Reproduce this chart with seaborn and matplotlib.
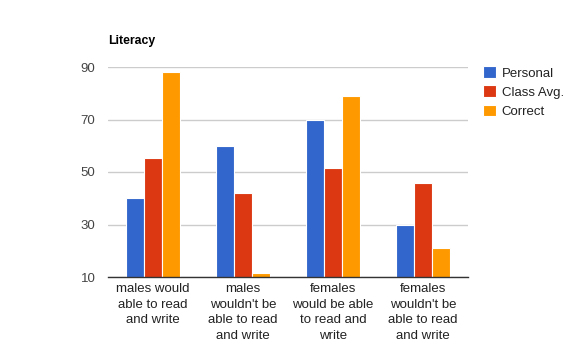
import matplotlib
matplotlib.use("Agg")
import matplotlib.pyplot as plt
import seaborn as sns
import pandas as pd

categories = [
    "males would\nable to read\nand write",
    "males\nwouldn't be\nable to read\nand write",
    "females\nwould be able\nto read and\nwrite",
    "females\nwouldn't be\nable to read\nand write",
]
series = ["Personal", "Class Avg.", "Correct"]
personal = [40, 60, 70, 30]
class_avg = [55.5, 42, 51.5, 46]
correct = [88, 11.5, 79, 21]
colors = ["#3366cc", "#dc3912", "#ff9900"]
y_ticks = [10, 30, 50, 70, 90]

df = pd.DataFrame({
    "category": categories * 3,
    "series": [s for s in series for _ in categories],
    "value": personal + class_avg + correct,
})

sns.set_theme(style="white")
plt.rcParams["font.family"] = ["Liberation Sans", "DejaVu Sans"]

fig = plt.figure(figsize=(5.77, 3.43), dpi=100)
ax = fig.add_axes([108 / 577, 1 - 277 / 343, 360 / 577, 210 / 343])

sns.barplot(data=df, x="category", y="value", hue="series", order=categories,
            hue_order=series, palette=colors, width=0.6, saturation=1,
            edgecolor="white", linewidth=0.8, ax=ax, legend=True)

ax.set_ylim(10, 90)
ax.set_xlim(-0.5, 3.5)
ax.set_yticks(y_ticks)
ax.set_yticklabels([str(t) for t in y_ticks])
ax.yaxis.grid(True, color="#cccccc", linewidth=1)
ax.set_axisbelow(True)
for side in ["left", "right", "top"]:
    ax.spines[side].set_visible(False)
ax.spines["bottom"].set_color("#333333")
ax.spines["bottom"].set_linewidth(1)
ax.set_xlabel("")
ax.set_ylabel("")
ax.tick_params(axis="y", length=0, pad=9, labelsize=9.5, labelcolor="#444444")
ax.tick_params(axis="x", length=0, pad=4.5, labelsize=9.5, labelcolor="#222222")
for lbl in ax.get_xticklabels():
    lbl.set_linespacing(1.38)

fig.text(108 / 577, 1 - 41 / 343, "Literacy", fontsize=8.8, fontweight="bold",
         color="#000000", ha="left", va="center")

handles, labels = ax.get_legend_handles_labels()
ax.legend(handles, labels, loc="upper left", bbox_to_anchor=(478 / 577, 1 - 61 / 343),
          bbox_transform=fig.transFigure, frameon=False, fontsize=9.5,
          handlelength=0.95, handleheight=0.95, handletextpad=0.45,
          labelspacing=0.45, borderaxespad=0, labelcolor="#222222")

fig.savefig("out.png", dpi=100)
